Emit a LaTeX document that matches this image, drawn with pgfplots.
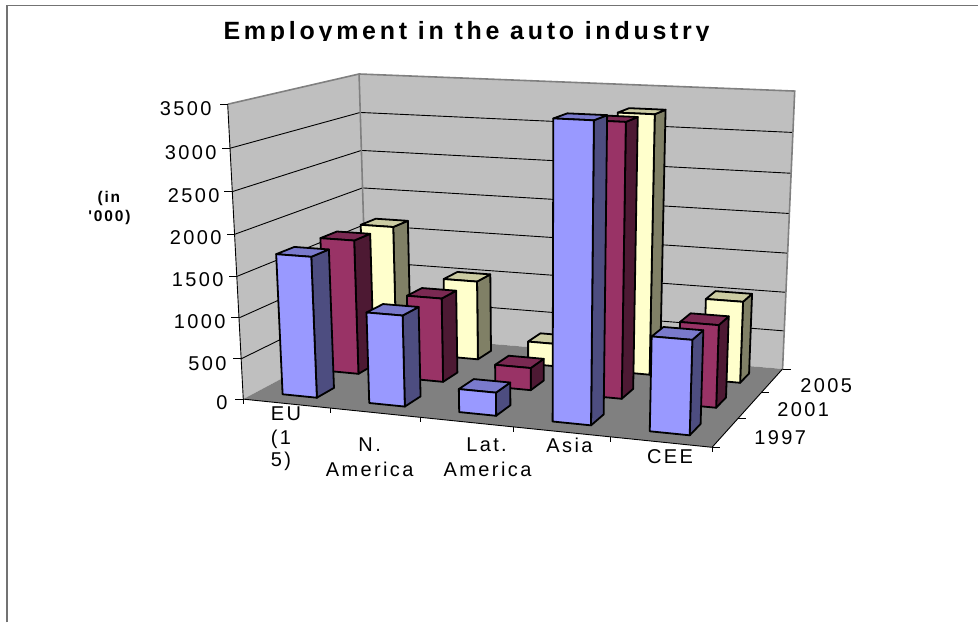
\documentclass[border=0pt]{standalone}
\usepackage{pgfplots}
\usepackage{pgfplotstable}
\usepackage{fontspec}
\pgfplotsset{compat=1.18}
\setmainfont{Liberation Sans}
\newfontfamily\labelfont[LetterSpace=12]{Liberation Sans}
\newfontfamily\titlefont[LetterSpace=15]{Liberation Sans}

\definecolor{bar0front}{HTML}{9999FF}
\definecolor{bar0side}{HTML}{4D4D80}
\definecolor{bar0top}{HTML}{7A7ACC}
\definecolor{bar1front}{HTML}{993366}
\definecolor{bar1side}{HTML}{4D1933}
\definecolor{bar1top}{HTML}{7A2952}
\definecolor{bar2front}{HTML}{FFFFCC}
\definecolor{bar2side}{HTML}{808066}
\definecolor{bar2top}{HTML}{CCCCA3}

\tikzset{
  barface/.style={draw=black,line width=1.8pt,line join=round},
  walledge/.style={draw=black!50,line width=1.6pt},
  thinline/.style={draw=black,line width=0.9pt},
  lab/.style={font=\fontsize{20}{23}\labelfont,anchor=center,inner sep=0pt},
}

% Employment in thousands: one row per region, one column per year.
\pgfplotstableread{
region y0 y1 y2
0 1722 1702 1665
1 1106 1058 1030
2 280 280 295
3 3464 3304 3253
4 1107 1005 1029
}\employment

% Perspective projection of the unit box (x along regions, y along years,
% z = value/3500) onto the drawing plane.
\newcommand\den[3]{(1-0.09259*(#1)+0.1436*(#2)-0.05*(#3))}
\newcommand\PU[3]{\fpeval{round((243.5+403.21*(#1)+176.54*(#2)-27*(#3))/\den{#1}{#2}{#3},2)}}
\newcommand\PV[3]{\fpeval{round((399.5+6.75*(#1)-18.11*(#2)-300.4*(#3)+3.5*(#1)*(#3))/\den{#1}{#2}{#3},2)}}
\newcommand\prj[3]{(\PU{#1}{#2}{#3},\PV{#1}{#2}{#3})}

% One bar: side, top and front faces.
\newcommand\drawbar[3]{%
  \edef\xl{\fpeval{0.2*#1+0.06}}%
  \edef\xr{\fpeval{0.2*#1+0.14}}%
  \edef\yf{\fpeval{#2/3+0.1}}%
  \edef\yb{\fpeval{#2/3+0.2333}}%
  \edef\zt{\fpeval{#3/3500}}%
  \edef\cmd{%
    \noexpand\addplot[barface,fill=bar#2side] coordinates {\prj{\xr}{\yf}{0}\prj{\xr}{\yb}{0}\prj{\xr}{\yb}{\zt}\prj{\xr}{\yf}{\zt}} -- cycle;
    \noexpand\addplot[barface,fill=bar#2top] coordinates {\prj{\xl}{\yf}{\zt}\prj{\xr}{\yf}{\zt}\prj{\xr}{\yb}{\zt}\prj{\xl}{\yb}{\zt}} -- cycle;
    \noexpand\addplot[barface,fill=bar#2front] coordinates {\prj{\xl}{\yf}{0}\prj{\xr}{\yf}{0}\prj{\xr}{\yf}{\zt}\prj{\xl}{\yf}{\zt}} -- cycle;
  }\cmd
}

\begin{document}
\begin{tikzpicture}
\begin{axis}[
  width=979pt, height=623pt, scale only axis,
  xmin=0, xmax=979, ymin=0, ymax=623, y dir=reverse,
  hide axis, clip=false,
]
% Extent of the drawing
\path (0,0) (979,623);
\addplot[draw=none] coordinates {(0,0)(979,623)};

% Frame of the chart area
\addplot[draw=black!55,line width=1.8pt] coordinates {(7,623)(7,5.5)(979,5.5)};

% Walls and floor
\addplot[fill=black!25,draw=none] coordinates {\prj000\prj010\prj011\prj001} -- cycle;
\addplot[fill=black!25,draw=none] coordinates {\prj010\prj110\prj111\prj011} -- cycle;
\addplot[fill=black!50,draw=none] coordinates {\prj000\prj100\prj110\prj010} -- cycle;

% Gridlines on both walls
\foreach \v in {500,1000,1500,2000,2500,3000}{%
  \edef\zv{\fpeval{\v/3500}}%
  \edef\cmd{\noexpand\addplot[thinline] coordinates {\prj{0}{0}{\zv}\prj{0}{1}{\zv}\prj{1}{1}{\zv}};}\cmd
}
\edef\cmd{\noexpand\addplot[walledge] coordinates {\prj{0}{0}{1}\prj{0}{1}{1}\prj{1}{1}{1}\prj{1}{1}{0}};}\cmd
\edef\cmd{\noexpand\addplot[walledge] coordinates {\prj{0}{1}{1}\prj{0}{1}{0}};}\cmd

% Axis lines and tick marks
\edef\cmd{\noexpand\addplot[thinline] coordinates {\prj{0}{0}{1}\prj{0}{0}{0}\prj{1}{0}{0}\prj{1}{1}{0}};}\cmd
\foreach \v in {0,500,1000,1500,2000,2500,3000,3500}{%
  \edef\zv{\fpeval{\v/3500}}%
  \edef\cmd{\noexpand\addplot[thinline] coordinates {\prj{0}{0}{\zv}(\fpeval{\PU{0}{0}{\zv}-8},\PV{0}{0}{\zv})};}\cmd
}
\foreach \c in {0,0.2,0.4,0.6,0.8,1}{%
  \edef\cmd{\noexpand\addplot[thinline] coordinates {\prj{\c}{0}{0}(\PU{\c}{0}{0},\fpeval{\PV{\c}{0}{0}+5})};}\cmd
}
\foreach \d in {0,0.3333,0.6667,1}{%
  \edef\cmd{\noexpand\addplot[thinline] coordinates {\prj{1}{\d}{0}(\fpeval{\PU{1}{\d}{0}+8},\PV{1}{\d}{0})};}\cmd
}

% Bars, back row first
\foreach \s in {2,1,0}{%
  \foreach \c in {0,1,2,3,4}{%
    \pgfplotstablegetelem{\c}{y\s}\of\employment
    \edef\val{\pgfplotsretval}%
    \drawbar{\c}{\s}{\val}%
  }%
}

% Value axis labels
\node[lab,anchor=east] at (212,108.3) {3500};
\node[lab,anchor=east] at (217,153) {3000};
\node[lab,anchor=east] at (220,195.5) {2500};
\node[lab,anchor=east] at (222,238) {2000};
\node[lab,anchor=east] at (224,280) {1500};
\node[lab,anchor=east] at (226,322) {1000};
\node[lab,anchor=east] at (227,363.5) {500};
\node[lab,anchor=east] at (228,403) {0};
\node[font=\fontsize{15.5}{18}\labelfont\bfseries,inner sep=0pt] at (109,199) {(in};
\node[font=\fontsize{15.5}{18}\labelfont\bfseries,inner sep=0pt] at (109.5,218) {'000)};

% Region labels
\node[lab,anchor=west] at (271,414.3) {EU};
\node[lab,anchor=west] at (271,440) {(1};
\node[lab,anchor=west] at (271,461.7) {5)};
\node[lab] at (370,445) {N.};
\node[lab] at (370,469.5) {America};
\node[lab] at (487,445) {Lat.};
\node[lab] at (488,470) {America};
\node[lab] at (570,445.7) {Asia};
\node[lab] at (670.6,456.7) {CEE};

% Year labels
\node[lab] at (781,437.7) {1997};
\node[lab] at (804,410) {2001};
\node[lab] at (827,386) {2005};

% Title, cut off along its baseline
\begin{scope}
  \clip (0,7) rectangle (979,41);
  \node[font=\fontsize{25}{29}\titlefont\bfseries,anchor=base,inner sep=0pt] at (467,39.5) {Employment in the auto industry};
\end{scope}
\end{axis}
\end{tikzpicture}
\end{document}
